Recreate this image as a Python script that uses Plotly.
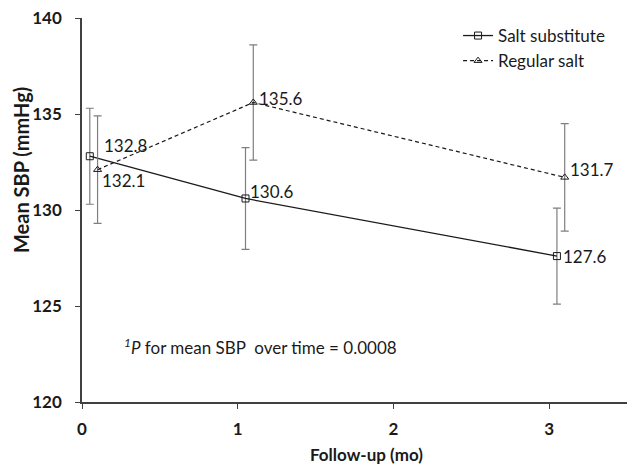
import plotly.graph_objects as go

months_sub = [0.05, 1.05, 3.05]
mean_sub = [132.8, 130.6, 127.6]
err_sub = [2.5, 2.65, 2.5]

months_reg = [0.1, 1.1, 3.1]
mean_reg = [132.1, 135.6, 131.7]
err_reg = [2.8, 3.0, 2.8]

x_ticks = [0, 1, 2, 3]
y_ticks = [120, 125, 130, 135, 140]

FONT = "Lato, 'Open Sans', sans-serif"
FS = 17

fig = go.Figure()
fig.add_trace(go.Scatter(
    x=months_sub, y=mean_sub, mode="lines+markers", name="Salt substitute",
    line=dict(color="#1a1a1a", width=1.3),
    marker=dict(symbol="square-open", size=7, color="#1a1a1a", line=dict(width=1)),
    error_y=dict(type="data", array=err_sub, color="#7f7f7f", thickness=1.2, width=4),
))
fig.add_trace(go.Scatter(
    x=months_reg, y=mean_reg, mode="lines+markers", name="Regular salt",
    line=dict(color="#1a1a1a", width=1.2, dash="4px,3px"),
    marker=dict(symbol="triangle-up-open", size=7, color="#1a1a1a", line=dict(width=1)),
    error_y=dict(type="data", array=err_reg, color="#7f7f7f", thickness=1.2, width=4),
))

# data labels: (xshift, yshift)
label_offsets_sub = [(12, 11), (2, 7), (4, 0)]
label_offsets_reg = [(2, -11), (4, 4), (3, 8)]
for (x, y), (dx, dy) in zip(zip(months_sub, mean_sub), label_offsets_sub):
    fig.add_annotation(x=x, y=y, text=f"{y:.1f}", showarrow=False, xanchor="left",
                       yanchor="middle", xshift=dx, yshift=dy,
                       font=dict(family=FONT, size=FS, color="#1a1a1a"))
for (x, y), (dx, dy) in zip(zip(months_reg, mean_reg), label_offsets_reg):
    fig.add_annotation(x=x, y=y, text=f"{y:.1f}", showarrow=False, xanchor="left",
                       yanchor="middle", xshift=dx, yshift=dy,
                       font=dict(family=FONT, size=FS, color="#1a1a1a"))

fig.add_annotation(x=0.255, y=122.9, text="<i><sup>1</sup>P</i> for mean SBP  over time = 0.0008",
                   showarrow=False, xanchor="left", yanchor="middle",
                   font=dict(family=FONT, size=FS, color="#1a1a1a"))

# axis titles placed as annotations to match the reference placement
fig.add_annotation(xref="paper", yref="paper", x=-0.112, y=0.604, text="<b>Mean SBP (mmHg)</b>",
                   textangle=-90, showarrow=False, xanchor="center", yanchor="middle",
                   font=dict(family=FONT, size=20, color="#1a1a1a"))
fig.add_annotation(xref="paper", yref="paper", x=0.522, y=-0.137, text="<b>Follow-up (mo)</b>",
                   showarrow=False, xanchor="center", yanchor="middle",
                   font=dict(family=FONT, size=17, color="#1a1a1a"))

fig.update_layout(
    width=627, height=467,
    margin=dict(l=82, r=0, t=18, b=65),
    paper_bgcolor="white", plot_bgcolor="white",
    font=dict(family=FONT, size=FS, color="#1a1a1a"),
    legend=dict(x=0.69, y=1.0, xanchor="left", yanchor="top",
                bgcolor="rgba(0,0,0,0)", font=dict(size=FS), tracegroupgap=0,
                itemwidth=30),
    xaxis=dict(range=[0, 3.5], tickvals=x_ticks, ticks="outside", ticklen=5,
               tickcolor="#404040", showline=True, linecolor="#404040", linewidth=1.5,
               showgrid=False, zeroline=False, ticklabelstandoff=6,
               tickfont=dict(family=FONT, size=FS, weight="bold")),
    yaxis=dict(range=[120, 140], tickvals=y_ticks, ticks="outside", ticklen=5,
               tickcolor="#404040", showline=True, linecolor="#404040", linewidth=1.5,
               showgrid=False, zeroline=False, ticklabelstandoff=10,
               tickfont=dict(family=FONT, size=FS, weight="bold")),
)

fig.write_html("out.html")
